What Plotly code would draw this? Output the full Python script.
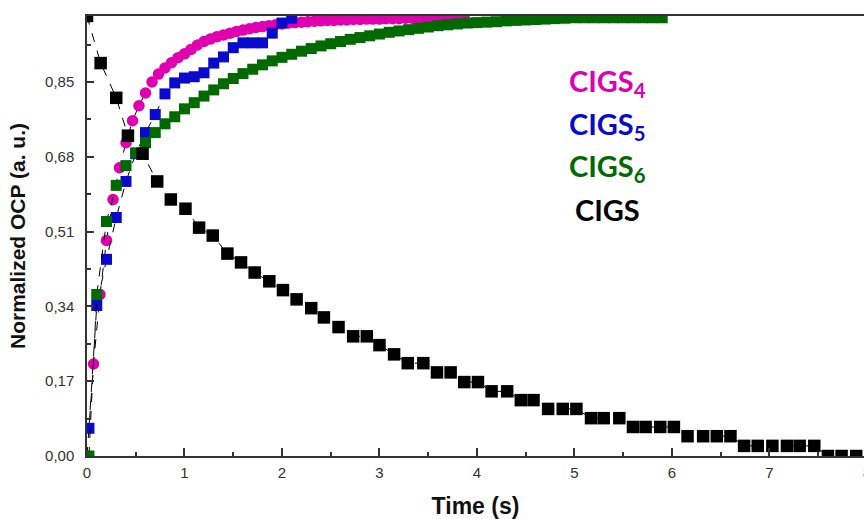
import plotly.graph_objects as go

# ---- data ----
t_cigs4 = [0.0, 0.067, 0.133, 0.2, 0.267, 0.333, 0.4, 0.467, 0.533, 0.6, 0.667, 0.733, 0.8, 0.867,
           0.933, 1.0, 1.067, 1.133, 1.2, 1.267, 1.333, 1.4, 1.467, 1.533, 1.6, 1.667, 1.733, 1.8,
           1.867, 1.933, 2.0, 2.067, 2.133, 2.2, 2.267, 2.333, 2.4, 2.467, 2.533, 2.6, 2.667, 2.733,
           2.8, 2.867, 2.933, 3.0, 3.067, 3.133, 3.2, 3.267, 3.333, 3.4, 3.467, 3.533, 3.6, 3.667,
           3.733, 3.8, 3.867]
y_cigs4 = [0.0, 0.209, 0.367, 0.49, 0.583, 0.655, 0.712, 0.762, 0.796, 0.825, 0.85, 0.868, 0.882, 0.894,
           0.905, 0.914, 0.924, 0.934, 0.942, 0.948, 0.953, 0.957, 0.961, 0.965, 0.968, 0.971, 0.974,
           0.976, 0.978, 0.980, 0.982, 0.984, 0.985, 0.986, 0.987, 0.988, 0.989, 0.990, 0.990, 0.991,
           0.991, 0.992, 0.992, 0.993, 0.993, 0.993, 0.994, 0.994, 0.994, 0.995, 0.995, 0.995, 0.996,
           0.996, 0.996, 0.997, 0.997, 0.997, 0.998]

t_cigs5 = [0.02, 0.10, 0.20, 0.30, 0.40, 0.50, 0.60, 0.70, 0.80, 0.90, 1.00, 1.10, 1.20, 1.30, 1.40,
           1.50, 1.60, 1.70, 1.80, 1.90, 2.00, 2.10]
y_cigs5 = [0.063, 0.342, 0.447, 0.542, 0.624, 0.687, 0.735, 0.776, 0.823, 0.848, 0.859, 0.862, 0.871,
           0.893, 0.907, 0.928, 0.939, 0.939, 0.939, 0.961, 0.984, 0.995]

t_cigs6 = [0.02, 0.1, 0.2, 0.3, 0.4, 0.5, 0.6, 0.7, 0.8, 0.9, 1.0, 1.1, 1.2, 1.3, 1.4, 1.5, 1.6, 1.7,
           1.8, 1.9, 2.0, 2.1, 2.2, 2.3, 2.4, 2.5, 2.6, 2.7, 2.8, 2.9, 3.0, 3.1, 3.2, 3.3, 3.4, 3.5,
           3.6, 3.7, 3.8, 3.9, 4.0, 4.1, 4.2, 4.3, 4.4, 4.5, 4.6, 4.7, 4.8, 4.9, 5.0, 5.1, 5.2, 5.3,
           5.4, 5.5, 5.6, 5.7, 5.8, 5.9]
y_cigs6 = [0.0, 0.367, 0.533, 0.615, 0.66, 0.689, 0.712, 0.735, 0.755, 0.771, 0.789, 0.803, 0.818,
           0.832, 0.846, 0.858, 0.869, 0.879, 0.889, 0.898, 0.906, 0.913, 0.920, 0.926, 0.932, 0.937,
           0.942, 0.947, 0.951, 0.955, 0.959, 0.963, 0.966, 0.969, 0.972, 0.975, 0.978, 0.980, 0.982,
           0.984, 0.985, 0.986, 0.987, 0.989, 0.990, 0.991, 0.992, 0.993, 0.994, 0.995, 0.996, 0.996,
           0.996, 0.996, 0.996, 0.996, 0.996, 0.996, 0.996, 0.996]

t_cigs = [0, 0.14, 0.30, 0.42, 0.57, 0.72, 0.86, 1.01, 1.15, 1.29, 1.44, 1.58, 1.72, 1.87, 2.01, 2.15,
          2.30, 2.43, 2.58, 2.73, 2.87, 3.0, 3.15, 3.29, 3.45, 3.59, 3.73, 3.87, 4.01, 4.15, 4.31, 4.45,
          4.58, 4.73, 4.88, 5.02, 5.17, 5.30, 5.46, 5.60, 5.73, 5.88, 6.02, 6.16, 6.32, 6.46, 6.60,
          6.74, 6.88, 7.03, 7.18, 7.31, 7.46, 7.60, 7.74, 7.89]
y_cigs = [1.0, 0.893, 0.814, 0.728, 0.687, 0.624, 0.583, 0.562, 0.519, 0.501, 0.46, 0.44, 0.417, 0.397,
          0.377, 0.356, 0.336, 0.315, 0.293, 0.272, 0.272, 0.252, 0.231, 0.211, 0.211, 0.19, 0.19,
          0.168, 0.168, 0.147, 0.147, 0.127, 0.127, 0.107, 0.107, 0.107, 0.086, 0.086, 0.086, 0.066,
          0.066, 0.066, 0.066, 0.045, 0.045, 0.045, 0.045, 0.023, 0.023, 0.023, 0.023, 0.023, 0.023,
          0.0, 0.0, 0.0]

y_tickvals = [0.0, 0.17, 0.34, 0.51, 0.68, 0.85]
y_ticktext = ["0,00", "0,17", "0,34", "0,51", "0,68", "0,85"]
y_minor = [0.085, 0.255, 0.425, 0.595, 0.765, 0.935]
x_tickvals = [0, 1, 2, 3, 4, 5, 6, 7, 8]
x_ticktext = ["0", "1", "2", "3", "4", "5", "6", "7", "8"]

labels = ["CIGS<sub>4</sub>", "CIGS<sub>5</sub>", "CIGS<sub>6</sub>", "CIGS"]
colors = ["#E000B0", "#0A0ACD", "#006A00", "#000000"]

fig = go.Figure()

series = [
    (t_cigs4, y_cigs4, "circle", 11.5, colors[0]),
    (t_cigs5, y_cigs5, "square", 11, colors[1]),
    (t_cigs6, y_cigs6, "square", 11, colors[2]),
    (t_cigs, y_cigs, "square", 12.5, colors[3]),
]
for (tx, ty, sym, sz, col), name in zip(series, labels):
    fig.add_trace(go.Scatter(
        x=tx, y=ty, mode="lines+markers", name=name,
        line=dict(color="#000000", width=1, dash="dash"),
        marker=dict(symbol=sym, size=sz, color=col, line=dict(width=0)),
        showlegend=False,
    ))

# text legend
leg_y = [0.848, 0.752, 0.656, 0.561]
for lab, col, yy in zip(labels, colors, leg_y):
    fig.add_annotation(
        x=0.67, y=yy, xref="paper", yref="paper", text="<b>" + lab + "</b>",
        showarrow=False, xanchor="center", yanchor="middle",
        font=dict(family="Lato", size=29, color=col),
    )

# partially visible "8" tick label at the right edge
fig.add_annotation(x=0.9955, y=0, xref="paper", yref="paper", text="8", showarrow=False,
                   xanchor="left", yanchor="top", yshift=-6,
                   font=dict(family="Liberation Sans", size=15, color="#333333"))

axis_font = dict(family="Liberation Sans", size=15, color="#333333")

fig.update_layout(
    width=864, height=519,
    margin=dict(l=87, r=0, t=16, b=63),
    paper_bgcolor="white", plot_bgcolor="white",
    xaxis=dict(
        range=[0, 7.97], tickmode="array", tickvals=x_tickvals, ticktext=x_ticktext,
        ticks="inside", ticklen=8, tickwidth=1.5, tickcolor="#333333",
        showline=True, linecolor="#333333", linewidth=1.5, mirror=True,
        showgrid=False, zeroline=False, tickfont=axis_font, ticklabelstandoff=2,
        minor=dict(tickvals=[0.5, 1.5, 2.5, 3.5, 4.5, 5.5, 6.5, 7.5], ticks="inside",
                   ticklen=4, tickwidth=1.5, tickcolor="#333333", showgrid=False),
        title=dict(text="<b>Time (s)</b>", font=dict(family="Liberation Sans", size=23, color="#111111"),
                   standoff=18),
    ),
    yaxis=dict(
        range=[0, 1.0], tickmode="array", tickvals=y_tickvals, ticktext=y_ticktext,
        ticks="inside", ticklen=7, tickwidth=1.5, tickcolor="#333333",
        showline=True, linecolor="#333333", linewidth=1.5,
        showgrid=False, zeroline=False, tickfont=axis_font, ticklabelstandoff=8,
        minor=dict(tickvals=y_minor, ticks="inside", ticklen=4, tickwidth=1.5,
                   tickcolor="#333333", showgrid=False),
        title=dict(text="<b>Normalized OCP (a. u.)</b>",
                   font=dict(family="Liberation Sans", size=21, color="#111111"), standoff=14),
    ),
)

fig.write_html("out.html")
